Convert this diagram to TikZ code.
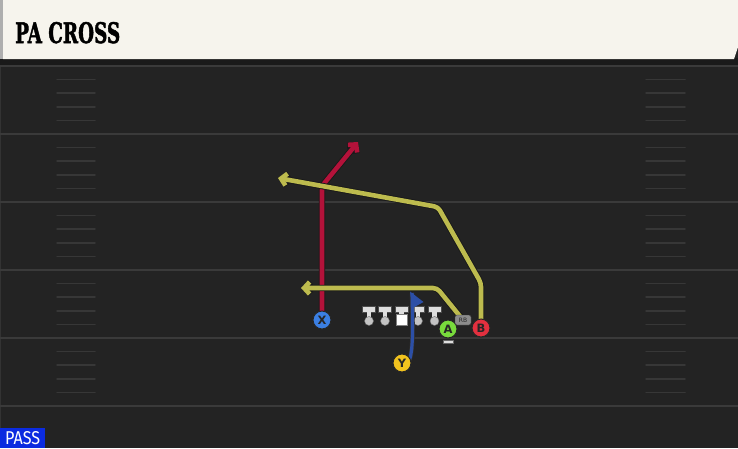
\documentclass[tikz,border=0pt]{standalone}
\usepackage{fontspec}
\usepackage{graphicx}
\usetikzlibrary{arrows.meta}
\newfontfamily\titlefont{DejaVu Serif}[BoldFeatures={FakeBold=2}]
\newfontfamily\uifont{Fira Sans}
\newfontfamily\letterfont{DejaVu Sans}
\definecolor{field}{HTML}{232323}
\definecolor{band}{HTML}{1A1A1A}
\definecolor{yardline}{HTML}{3A3A3A}
\definecolor{hashcol}{HTML}{373737}
\definecolor{headerfill}{HTML}{F6F4ED}
\definecolor{headerstripe}{HTML}{AEAEAE}
\definecolor{routered}{HTML}{B3123A}
\definecolor{routeyellow}{HTML}{BDBB4E}
\definecolor{routeblue}{HTML}{2C4FA6}
\definecolor{pblue}{HTML}{3B7FE3}
\definecolor{pgreen}{HTML}{78DA3C}
\definecolor{pred}{HTML}{E2303F}
\definecolor{pyellow}{HTML}{F2C31E}
\definecolor{passblue}{HTML}{0B2BE0}
\definecolor{linemanbar}{HTML}{DEDEDE}
\definecolor{linemanball}{HTML}{C4C4C4}
\definecolor{rbgrey}{HTML}{8C8C8C}
\pgfdeclarelayer{fieldlayer}
\pgfdeclarelayer{playerlayer}
\pgfsetlayers{fieldlayer,main,playerlayer}
\newcommand\routeline[2]{\draw[#1,routeedge] #2; \draw[#1,routecore] #2;}
\begin{document}
\begin{tikzpicture}[x=1pt,y=-1pt,
  yard/.style={draw=yardline, line width=1.6pt},
  hashmark/.style={draw=hashcol, line width=1.5pt, line cap=round},
  routeedge/.style={draw=black!90, line width=6.4pt, rounded corners=4pt},
  routecore/.style={line width=4.6pt, rounded corners=4pt},
  rtip/.style={-{Straight Barb[length=5.5pt,width=12pt]}},
  player/.style={circle, draw=black!85, line width=1pt, minimum size=18pt, inner sep=0pt,
    font=\letterfont\bfseries\fontsize{11.5}{11.5}\selectfont, text=black!85},
  lbar/.style={fill=linemanbar, draw=black!70, line width=0.4pt}
]
\useasboundingbox (0,0) rectangle (738,448);
\begin{pgfonlayer}{fieldlayer}
  \fill[field] (0,0) rectangle (738,448);
  \fill[band] (0,58) rectangle (738,66);
  \draw[draw=black!80!white, line width=1pt] (0.5,66) -- (0.5,448);
  \foreach \yy in {66,134,202,270,338,406}
    \draw[yard] (0,\yy) -- (738,\yy);
  \foreach \b in {66,134,202,270,338}
    \foreach \j in {1,...,4} {
      \draw[hashmark] (57,\b+13.6*\j) -- (95,\b+13.6*\j);
      \draw[hashmark] (646,\b+13.6*\j) -- (685,\b+13.6*\j);
    }
  % header
  \fill[headerfill] (3,0) -- (738,0) -- (738,47) -- (734,59) -- (3,59) -- cycle;
  \fill[headerstripe] (0,0) rectangle (3,59);
\end{pgfonlayer}
\node[anchor=base west, inner sep=0pt, text=black] (title) at (15,43)
  {\resizebox{105pt}{21pt}{\titlefont\bfseries PA CROSS}};
\node[anchor=south west, fill=passblue, inner sep=0pt, minimum width=45pt, minimum height=20pt,
  text=white] (pass) at (0,448) {\resizebox{35pt}{13pt}{\uifont PASS}};

% players
\begin{pgfonlayer}{playerlayer}
\node[player, fill=pblue] (X) at (322,320) {X};
\node[player, fill=pgreen] (A) at (448,329) {A};
\node[player, fill=pred] (B) at (481,328) {B};
\node[player, fill=pyellow] (Y) at (402,363) {Y};
\node[fill=rbgrey, draw=black!80, line width=0.4pt, rounded corners=2pt, minimum width=16pt,
  minimum height=10pt, inner sep=0pt, text=black!85,
  font=\letterfont\fontsize{6}{6}\selectfont] (RB) at (463,320) {RB};
\fill[linemanbar, draw=black!60, line width=0.4pt] (443,340) rectangle (453,343.5);
\end{pgfonlayer}

% linemen
\foreach \lx in {369,385,418,434.5} {
  \draw[lbar] (\lx-6.5,306.5) rectangle (\lx+6.5,312);
  \fill[linemanbar] (\lx-2.2,312) rectangle (\lx+2.2,318);
  \fill[linemanball, draw=black!60, line width=0.4pt] (\lx,321) circle (4.5);
}
\draw[lbar] (395,306.5) rectangle (408,312);
\fill[linemanbar] (399.3,312) rectangle (403.7,315);
\fill[white, draw=black!50, line width=0.4pt] (396.5,314.5) rectangle (407,325.5);

% routes
\coordinate (xturn) at (322,186);
\coordinate (xend) at (358,142);
\coordinate (bup) at (481,283);
\coordinate (bcorner) at (438,207);
\coordinate (bend) at (278,178);
\coordinate (acorner) at (437,288);
\coordinate (aend) at (301,288);
\coordinate (yfake) at (412,293);
\routeline{draw=routered, rtip}{(X.center) -- (xturn) -- (xend)}
\routeline{draw=routeyellow, rtip}{(B.center) -- (bup) -- (bcorner) -- (bend)}
\routeline{draw=routeyellow, rtip}{(RB.center) -- (acorner) -- (aend)}
\draw[draw=black!80, line width=4.4pt] (Y.center) -- (409,361) .. controls (413,352) and (413,330) .. (yfake);
\draw[draw=routeblue, line width=3.2pt] (Y.center) -- (409,361) .. controls (413,352) and (413,330) .. (yfake);
\fill[routeblue] (410,291.5) -- (423.5,302) -- (413.5,307.5) -- cycle;
\end{tikzpicture}
\end{document}
